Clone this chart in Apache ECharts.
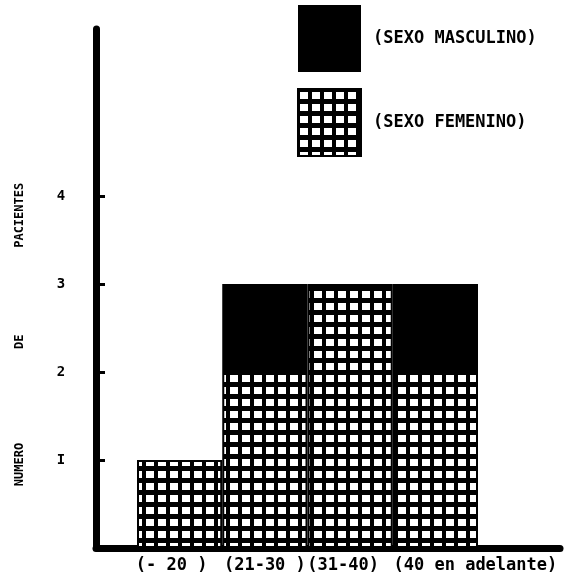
<!DOCTYPE html>
<html>
<head>
<meta charset="utf-8">
<script src="https://cdn.jsdelivr.net/npm/echarts@6/dist/echarts.min.js"></script>
<style>
html,body{margin:0;padding:0;background:#fff;}
#chart{width:576px;height:579px;}
</style>
</head>
<body>
<div id="chart"></div>
<script>
// ---- data ----
var categories = ['(- 20 )', '(21-30 )', '(31-40)', '(40 en adelante)'];
var femenino = [1, 2, 3, 2];
var masculino = [0, 1, 0, 1];
var seriesNames = ['(SEXO FEMENINO)', '(SEXO MASCULINO)'];
var yTickValues = [1, 2, 3, 4];
var yTickLabels = ['I', '2', '3', '4'];
var yAxisTitle = 'NUMERO             DE            PACIENTES';

// ---- pattern for femenino ----
function makePattern() {
  var c = document.createElement('canvas');
  c.width = 12; c.height = 12;
  var g = c.getContext('2d');
  g.fillStyle = '#000';
  g.fillRect(0, 0, 12, 12);
  g.fillStyle = '#fff';
  g.fillRect(2, 3, 8, 7);
  return c;
}
var patternFill = { image: makePattern(), repeat: 'repeat' };

var FONT = '"DejaVu Sans Mono", "Liberation Mono", monospace';
var labelShift = [-8, 0, -7, 40];
var catData = categories.map(function (c, i) {
  var s = labelShift[i];
  return {
    value: c,
    textStyle: { padding: s >= 0 ? [0, 0, 0, 2 * s] : [0, -2 * s, 0, 0] }
  };
});

var chart = echarts.init(document.getElementById('chart'), null, { renderer: 'canvas' });
chart.setOption({
  animation: false,
  backgroundColor: '#fff',
  legend: {
    orient: 'vertical',
    left: 297,
    top: 5,
    padding: 0,
    itemWidth: 63,
    itemHeight: 67,
    itemGap: 16,
    icon: 'rect',
    selectedMode: false,
    data: [seriesNames[1], seriesNames[0]],
    textStyle: { fontFamily: FONT, fontWeight: 'bold', fontSize: 17, color: '#000', padding: [0, 0, 0, 7] }
  },
  grid: [
    { left: 96, right: 16, top: 29, bottom: 31 },
    { left: 137, right: 98, top: 29, bottom: 31 }
  ],
  xAxis: [
    {
      gridIndex: 0, type: 'value', min: 0, max: 1,
      axisLine: { show: true, lineStyle: { color: '#000', width: 7, cap: 'round' } },
      axisTick: { show: false }, axisLabel: { show: false }, splitLine: { show: false }
    },
    {
      gridIndex: 1, type: 'category', data: catData,
      axisLine: { show: false }, axisTick: { show: false }, splitLine: { show: false },
      axisLabel: { margin: 9, fontFamily: FONT, fontWeight: 'bold', fontSize: 17, color: '#000', interval: 0 }
    }
  ],
  yAxis: [
    {
      gridIndex: 0, type: 'value', min: 0, max: 5.9,
      axisLine: { show: true, lineStyle: { color: '#000', width: 7, cap: 'round' } },
      axisTick: { show: true, inside: true, length: 9, customValues: yTickValues, lineStyle: { color: '#000', width: 3 } },
      axisLabel: {
        customValues: yTickValues,
        formatter: function (v) { var i = yTickValues.indexOf(v); return i >= 0 ? yTickLabels[i] : ''; },
        margin: 35, align: 'center',
        fontFamily: FONT, fontWeight: 'bold', fontSize: 14, color: '#000'
      },
      splitLine: { show: false },
      name: yAxisTitle,
      nameLocation: 'middle',
      nameRotate: 90,
      nameGap: 70,
      nameTextStyle: { fontFamily: FONT, fontWeight: 'bold', fontSize: 12, color: '#000', padding: [0, 92, 0, 0] }
    },
    {
      gridIndex: 1, type: 'value', min: 0, max: 5.9, show: false
    }
  ],
  series: [
    {
      name: seriesNames[0], type: 'bar', xAxisIndex: 1, yAxisIndex: 1, stack: 'total',
      data: femenino, barWidth: '100%', barGap: 0,
      itemStyle: { color: patternFill, borderColor: '#000', borderWidth: 2 }
    },
    {
      name: seriesNames[1], type: 'bar', xAxisIndex: 1, yAxisIndex: 1, stack: 'total',
      data: masculino, barWidth: '100%', barGap: 0,
      itemStyle: { color: '#000' }
    }
  ]
});
</script>
</body>
</html>
